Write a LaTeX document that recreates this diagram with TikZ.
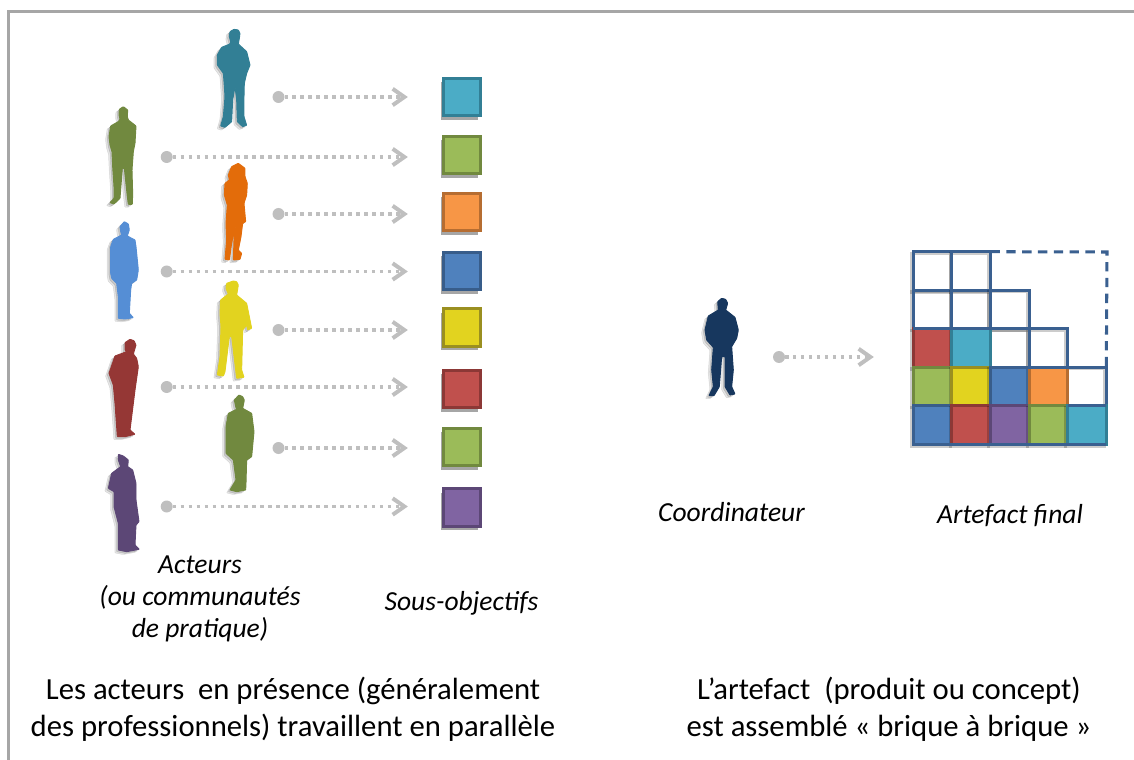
\documentclass[tikz,border=0pt]{standalone}
\usepackage{fontspec}
\setmainfont{Carlito}
\usepackage{xcolor}
\usepackage{tikz}
\usetikzlibrary{arrows.meta,shadows}

\definecolor{frameGray}{HTML}{A6A6A6}
\definecolor{linkGray}{HTML}{BFBFBF}
\definecolor{gridNavy}{HTML}{3A6090}
\definecolor{tealFill}{HTML}{4BACC6}
\definecolor{tealEdge}{HTML}{327F95}
\definecolor{greenFill}{HTML}{9BBB59}
\definecolor{greenEdge}{HTML}{71893F}
\definecolor{orangeFill}{HTML}{F79646}
\definecolor{orangeEdge}{HTML}{B66D31}
\definecolor{blueFill}{HTML}{4F81BD}
\definecolor{blueEdge}{HTML}{385D8A}
\definecolor{yellowFill}{HTML}{E2D31F}
\definecolor{yellowEdge}{HTML}{9A8F20}
\definecolor{redFill}{HTML}{C0504D}
\definecolor{redEdge}{HTML}{8C3836}
\definecolor{purpleFill}{HTML}{8064A2}
\definecolor{purpleEdge}{HTML}{5C4776}
\definecolor{skyActor}{HTML}{558ED5}
\definecolor{orangeActor}{HTML}{E36C0A}
\definecolor{redActor}{HTML}{953735}
\definecolor{navyActor}{HTML}{17375E}

\tikzset{
  person/.style={fill=#1,draw=#1,line width=.8pt,line join=round,rounded corners=.5pt,
    preaction={fill=black,draw=black,opacity=.1,transform canvas={shift={(-3pt,-2.5pt)}}},
    preaction={fill=black,draw=black,opacity=.13,transform canvas={shift={(-1.5pt,-1.5pt)}}}},
  origin/.style={circle,fill=linkGray,minimum size=.36cm,inner sep=0pt,outer sep=0pt},
  link/.style={draw=linkGray,line width=3pt,dash pattern=on 3pt off 3.8pt,
    -{Straight Barb[length=10pt,width=14pt,line width=3.4pt]},shorten >=1pt},
  brick/.style={rectangle,minimum size=1.125cm,inner sep=0pt,line width=2.8pt,
    drop shadow={shadow xshift=-2pt,shadow yshift=-3.6pt,opacity=.35,fill=black}},
  cell/.style={rectangle,minimum size=1.158cm,inner sep=0pt,outer sep=0pt,line width=2.6pt,
    preaction={draw=black,line width=2.6pt,opacity=.2,transform canvas={shift={(-1.5pt,-1.5pt)}}}},
  gridline/.style={draw=gridNavy,line width=2.6pt},
  caption/.style={align=center,font=\fontsize{26.2}{31.6}\selectfont,inner sep=0pt},
  tag/.style={align=center,font=\fontsize{23.5}{27.3}\selectfont\itshape,inner sep=0pt},
}

\begin{document}
\begin{tikzpicture}[x=.03cm,y=-.03cm]
\useasboundingbox (0,0) rectangle (1134,760);

\draw[frameGray,line width=2.6pt] (8.5,760)--(8.5,11.5)--(1134,11.5);

\begin{scope}[shift={(90,20)},scale=1/3]
\path[person=tealEdge] (432,28)--(420,35)--(418,50)--(422,65)--(420,72)--(395,82)--(382,105)--(382,135)--(400,160)--(402,185)--(405,230)--(400,290)--(392,318)--(405,322)--(425,305)--(428,240)--(435,200)--(440,240)--(442,305)--(458,320)--(470,316)--(462,290)--(462,230)--(463,190)--(470,160)--(480,135)--(470,95)--(445,72)--(448,55)--(450,40)--(445,30)--cycle;
\path[person=greenEdge] (100,260)--(88,268)--(87,285)--(90,298)--(85,305)--(62,318)--(57,350)--(60,375)--(66,395)--(68,440)--(72,500)--(72,535)--(60,548)--(72,552)--(90,535)--(97,445)--(103,445)--(112,530)--(115,553)--(127,553)--(128,520)--(126,450)--(130,395)--(135,370)--(138,318)--(115,300)--(112,290)--(113,270)--cycle;
\path[person=orangeActor] (445,430)--(425,440)--(415,465)--(418,480)--(405,490)--(403,525)--(412,555)--(408,610)--(410,660)--(405,718)--(418,720)--(425,670)--(437,610)--(432,660)--(430,720)--(450,718)--(455,700)--(445,690)--(453,650)--(458,610)--(467,605)--(462,550)--(470,525)--(472,490)--(465,470)--(465,445)--cycle;
\path[person=skyActor] (103,605)--(90,620)--(92,635)--(95,645)--(70,658)--(62,680)--(62,760)--(65,775)--(80,790)--(85,830)--(85,895)--(105,897)--(130,893)--(118,880)--(122,810)--(125,790)--(140,780)--(145,750)--(138,680)--(135,660)--(112,648)--(118,630)--(115,612)--cycle;
\end{scope}

\begin{scope}[shift={(90,270)},scale=1/3]
\path[person=yellowFill] (430,33)--(410,40)--(408,55)--(415,72)--(392,90)--(390,130)--(393,170)--(390,260)--(382,315)--(400,318)--(405,305)--(418,200)--(425,200)--(440,325)--(462,322)--(455,300)--(458,180)--(470,165)--(473,180)--(485,175)--(470,100)--(440,75)--(445,45)--(440,35)--cycle;
\path[person=redActor] (120,208)--(105,218)--(105,240)--(110,245)--(75,258)--(57,310)--(70,345)--(75,400)--(82,500)--(105,500)--(135,493)--(120,480)--(135,360)--(145,290)--(140,265)--(130,252)--(138,225)--(132,212)--cycle;
\path[person=greenEdge] (447,375)--(433,390)--(437,410)--(440,418)--(415,430)--(408,470)--(408,550)--(430,570)--(438,630)--(420,660)--(440,665)--(467,660)--(468,640)--(470,570)--(485,560)--(492,485)--(485,430)--(458,415)--(463,390)--(458,380)--cycle;
\path[person=purpleEdge] (85,553)--(85,570)--(92,590)--(65,610)--(55,655)--(72,665)--(72,710)--(85,760)--(85,840)--(110,845)--(148,838)--(135,825)--(138,765)--(147,755)--(138,690)--(138,640)--(128,600)--(113,590)--(115,570)--(100,558)--cycle;
\end{scope}

\begin{scope}[shift={(680,230)},scale=1/3]
\path[person=navyActor] (125,205)--(113,215)--(115,240)--(85,258)--(75,300)--(80,330)--(100,352)--(95,420)--(100,470)--(87,497)--(102,497)--(118,470)--(125,380)--(135,380)--(135,470)--(150,495)--(165,492)--(155,470)--(160,420)--(155,350)--(170,325)--(175,300)--(165,262)--(137,240)--(143,220)--(137,208)--cycle;
\end{scope}

\node[brick,fill=tealFill,draw=tealEdge] (brickA) at (462,97) {};
\node[brick,fill=greenFill,draw=greenEdge] (brickB) at (462,155) {};
\node[brick,fill=orangeFill,draw=orangeEdge] (brickC) at (462,212) {};
\node[brick,fill=blueFill,draw=blueEdge] (brickD) at (462,271) {};
\node[brick,fill=yellowFill,draw=yellowEdge] (brickE) at (462,327.5) {};
\node[brick,fill=redFill,draw=redEdge] (brickF) at (462,389) {};
\node[brick,fill=greenFill,draw=greenEdge] (brickG) at (462,447) {};
\node[brick,fill=purpleFill,draw=purpleEdge] (brickH) at (462,507.5) {};

\node[origin] (dotA) at (278.5,97) {};
\node[origin] (dotB) at (166.7,157) {};
\node[origin] (dotC) at (278.5,214) {};
\node[origin] (dotD) at (166.7,271.5) {};
\node[origin] (dotE) at (278.5,330) {};
\node[origin] (dotF) at (166.7,387) {};
\node[origin] (dotG) at (278.5,448) {};
\node[origin] (dotH) at (166.7,506.5) {};
\node[origin] (dotZ) at (779,357) {};

\coordinate (tipA) at (409,97);
\coordinate (tipB) at (409,157);
\coordinate (tipC) at (409,214);
\coordinate (tipD) at (409,271.5);
\coordinate (tipE) at (409,330);
\coordinate (tipF) at (409,387);
\coordinate (tipG) at (409,448);
\coordinate (tipH) at (409,506.5);
\coordinate (tipZ) at (875,357);

\draw[link] (dotA)--(tipA);
\draw[link] (dotB)--(tipB);
\draw[link] (dotC)--(tipC);
\draw[link] (dotD)--(tipD);
\draw[link] (dotE)--(tipE);
\draw[link] (dotF)--(tipF);
\draw[link] (dotG)--(tipG);
\draw[link] (dotH)--(tipH);
\draw[link] (dotZ)--(tipZ);

\node[cell,draw=gridNavy] (cellAa) at (932.6,271) {};
\node[cell,draw=gridNavy] (cellAb) at (971.2,271) {};
\node[cell,draw=gridNavy] (cellBa) at (932.6,309.5) {};
\node[cell,draw=gridNavy] (cellBb) at (971.2,309.5) {};
\node[cell,draw=gridNavy] (cellBc) at (1009.8,309.5) {};
\node[cell,draw=gridNavy] (cellCc) at (1009.8,348) {};
\node[cell,draw=gridNavy] (cellCd) at (1048.4,348) {};
\node[cell,draw=gridNavy] (cellDe) at (1087,386.5) {};

\node[cell,fill=redFill,draw=redEdge] (cellCa) at (932.6,348) {};
\node[cell,fill=tealFill,draw=tealEdge] (cellCb) at (971.2,348) {};
\node[cell,fill=greenFill,draw=greenEdge] (cellDa) at (932.6,386.5) {};
\node[cell,fill=yellowFill,draw=yellowEdge] (cellDb) at (971.2,386.5) {};
\node[cell,fill=blueFill,draw=blueEdge] (cellDc) at (1009.8,386.5) {};
\node[cell,fill=orangeFill,draw=orangeEdge] (cellDd) at (1048.4,386.5) {};
\node[cell,fill=blueFill,draw=blueEdge] (cellEa) at (932.6,425) {};
\node[cell,fill=redFill,draw=redEdge] (cellEb) at (971.2,425) {};
\node[cell,fill=purpleFill,draw=purpleEdge] (cellEc) at (1009.8,425) {};
\node[cell,fill=greenFill,draw=greenEdge] (cellEd) at (1048.4,425) {};
\node[cell,fill=tealFill,draw=tealEdge] (cellEe) at (1087,425) {};

\draw[gridline] (cellCa.north west)--(cellCd.north east);
\draw[gridline] (cellDc.north west)--(cellDe.north east);
\draw[gridline] (cellDe.south west)--(cellDe.south east);
\draw[gridline] (cellEa.north west)--(cellEa.south west)--(cellEe.south east);

\coordinate (cornerZ) at (1107,252);
\draw[gridline,dash pattern=on 8pt off 5.5pt] (cellAb.north east)--(cornerZ)--(cellDe.north east);

\node[tag] (actorsTag) at (200,599) {Acteurs\\(ou communautés\\de pratique)};
\node[tag] (goalsTag) at (461.5,603) {Sous-objectifs};
\node[tag] (coordTag) at (731.5,512) {Coordinateur};
\node[tag] (finalTag) at (1010,515.5) {Artefact final};

\node[caption] (leftCaption) at (293,709.5) {Les acteurs~~en présence (généralement\\des professionnels) travaillent en parallèle};
\node[caption] (rightCaption) at (889,709.5) {L’artefact~~(produit ou concept)\\est assemblé « brique à brique »};
\end{tikzpicture}
\end{document}
